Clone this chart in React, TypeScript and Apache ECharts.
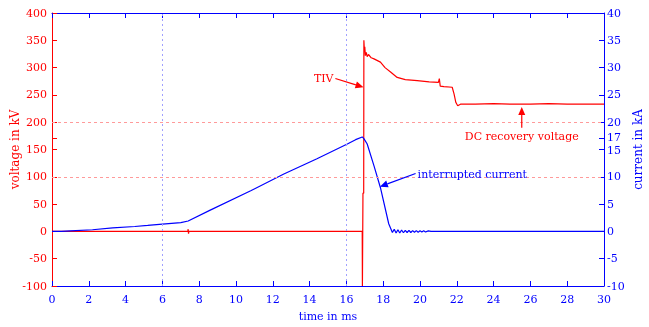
import React, { useEffect, useRef } from "react";
import * as echarts from "echarts";

const voltage: [number, number][] = [
  [0, 0], [7.38, 0], [7.4, 4], [7.42, -4], [7.44, 0], [16.86, 0], [16.87, -100], [16.9, -100],
  [16.9, 70], [16.94, 70], [16.95, 350], [16.98, 330], [17.0, 338], [17.03, 322], [17.08, 328],
  [17.13, 320], [17.2, 324], [17.35, 318], [17.5, 316], [17.85, 310], [18.1, 300], [18.4, 292],
  [18.76, 282], [19.2, 278], [19.85, 276], [20.5, 274], [21.0, 273], [21.05, 280], [21.1, 266],
  [21.3, 265], [21.75, 264], [21.85, 252], [21.95, 236], [22.05, 230], [22.2, 233], [23, 233],
  [24, 234], [25, 233], [26, 233], [27, 234], [28, 233], [30, 233],
];

const current: [number, number][] = [
  [0, 0], [0.5, 0], [1, 0.1], [2.2, 0.3], [3.3, 0.65], [4.5, 0.9], [5.2, 1.1], [6, 1.35], [7.0, 1.6],
  [7.4, 1.9], [8.6, 3.9], [10.8, 7.45], [12.6, 10.5], [14.4, 13.3], [16.05, 16.0], [16.5, 16.8],
  [16.86, 17.3], [16.95, 17.0], [17.13, 16.0], [17.5, 12.0], [17.85, 8.0], [18.3, 1.4], [18.5, -0.2],
  [18.6, 0.4], [18.7, -0.3], [18.8, 0.3], [18.9, -0.3], [19.0, 0.25], [19.1, -0.25], [19.2, 0.2],
  [19.3, -0.2], [19.4, 0.2], [19.5, -0.2], [19.6, 0.15], [19.7, -0.15], [19.8, 0.15], [19.9, -0.15],
  [20.0, 0.1], [20.1, -0.1], [20.2, 0.1], [20.3, -0.1], [20.45, 0.1], [20.6, 0], [30, 0],
];

const voltageTicks = [-100, -50, 0, 50, 100, 150, 170, 200, 250, 300, 350, 400];
const voltageLabels = [-100, -50, 0, 50, 100, 150, 200, 250, 300, 350, 400];
const currentTicks = [-10, -5, 0, 5, 10, 15, 17, 20, 25, 30, 35, 40];
const voltageGuides = [100, 200];
const timeGuides = [6, 16];

const RED = "#ff0000";
const BLUE = "#0000ff";
const FONT = "DejaVu Serif";

export default function App() {
  const ref = useRef<HTMLDivElement>(null);
  useEffect(() => {
    if (!ref.current) return;
    const chart = echarts.init(ref.current, undefined, { renderer: "svg" });
    const labelStyle = (c: string) => ({ color: c, fontFamily: FONT, fontSize: 11, lineHeight: 10 });
    chart.setOption({
      animation: false,
      grid: { left: 52, right: 45, top: 13, bottom: 41, containLabel: false, outerBoundsMode: "none" },
      xAxis: [
        {
          type: "value", min: 0, max: 30, interval: 2, position: "bottom",
          name: "time in ms", nameLocation: "middle", nameGap: 25, nameMoveOverlap: false,
          nameTextStyle: { color: BLUE, fontFamily: FONT, fontSize: 11 },
          axisLine: { onZero: false, lineStyle: { color: BLUE, width: 1 } },
          axisTick: { inside: true, length: 5, lineStyle: { color: BLUE } },
          axisLabel: { ...labelStyle(BLUE), margin: 8 },
          splitLine: { show: false },
        },
        {
          type: "value", min: 0, max: 30, interval: 2, position: "top",
          axisLine: { onZero: false, lineStyle: { color: BLUE, width: 1 } },
          axisTick: { inside: true, length: 5, lineStyle: { color: BLUE } },
          axisLabel: { show: false },
          splitLine: { show: false },
        },
      ],
      yAxis: [
        {
          type: "value", min: -100, max: 400, interval: 50, position: "left",
          name: "voltage in kV", nameLocation: "middle", nameGap: 31, nameRotate: 90, nameMoveOverlap: false,
          nameTextStyle: { color: RED, fontFamily: FONT, fontSize: 12 },
          axisLine: { show: true, onZero: false, lineStyle: { color: RED, width: 1 } },
          axisTick: { show: true, inside: true, length: 5, customValues: voltageTicks, lineStyle: { color: RED } },
          axisLabel: { ...labelStyle(RED), margin: 5, customValues: voltageLabels },
          splitLine: { show: false },
        },
        {
          type: "value", min: -10, max: 40, interval: 5, position: "right",
          name: "current in kA", nameLocation: "middle", nameGap: 28, nameRotate: 90, nameMoveOverlap: false,
          nameTextStyle: { color: BLUE, fontFamily: FONT, fontSize: 12 },
          axisLine: { show: true, onZero: false, lineStyle: { color: BLUE, width: 1 } },
          axisTick: { show: true, inside: true, length: 5, customValues: currentTicks, lineStyle: { color: BLUE } },
          axisLabel: {
            ...labelStyle(BLUE), margin: 3, customValues: currentTicks,
            formatter: (v: number) => (v === 17 ? "{up|17}" : v === 15 ? "{dn|15}" : String(v)),
            rich: {
              up: { color: BLUE, fontFamily: FONT, fontSize: 11, lineHeight: 10, padding: [0, 0, 2, 0] },
              dn: { color: BLUE, fontFamily: FONT, fontSize: 11, lineHeight: 10, padding: [1, 0, 0, 0] },
            },
          },
          splitLine: { show: false },
        },
      ],
      series: [
        {
          type: "line", name: "voltage", xAxisIndex: 0, yAxisIndex: 0, data: voltage,
          showSymbol: false, symbol: "none", lineStyle: { color: RED, width: 1.2 }, z: 3,
          markLine: {
            silent: true, symbol: "none", label: { show: false },
            lineStyle: { color: "#ff9a9a", type: [3, 3], width: 1 },
            data: voltageGuides.map((v) => ({ yAxis: v })),
          },
        },
        {
          type: "line", name: "current", xAxisIndex: 0, yAxisIndex: 1, data: current,
          showSymbol: false, symbol: "none", lineStyle: { color: BLUE, width: 1.2 }, z: 4,
          markLine: {
            silent: true, symbol: "none", label: { show: false },
            lineStyle: { color: "#a0a0ff", type: [2, 3], width: 1 },
            data: timeGuides.map((t) => ({ xAxis: t })),
          },
        },
      ],
    });

    const pv = (t: number, v: number) => chart.convertToPixel({ xAxisIndex: 0, yAxisIndex: 0 }, [t, v]) as number[];
    const pc = (t: number, v: number) => chart.convertToPixel({ xAxisIndex: 0, yAxisIndex: 1 }, [t, v]) as number[];
    const arrow = (a: number[], b: number[], color: string) => {
      const dx = b[0] - a[0], dy = b[1] - a[1];
      const len = Math.hypot(dx, dy);
      const ux = dx / len, uy = dy / len;
      const hl = 8, hw = 3.5;
      const base = [b[0] - ux * hl, b[1] - uy * hl];
      return [
        { type: "line", shape: { x1: a[0], y1: a[1], x2: base[0], y2: base[1] }, style: { stroke: color, lineWidth: 1.2 }, z: 10 },
        {
          type: "polygon", z: 10,
          shape: { points: [b, [base[0] - uy * hw, base[1] + ux * hw], [base[0] + uy * hw, base[1] - ux * hw]] },
          style: { fill: color },
        },
      ];
    };
    const tivText = pv(15.3, 280);
    const tivA = pv(15.4, 280), tivB = pv(16.93, 264);
    const dcText = pv(25.53, 174);
    const dcA = pv(25.53, 190), dcB = pv(25.53, 228);
    const icText = pc(19.87, 10.5);
    const icA = pc(19.76, 10.6), icB = pc(17.82, 8.2);
    const txt = (p: number[], s: string, color: string, align: string) => ({
      type: "text", x: p[0], y: p[1], z: 10,
      style: { text: s, fill: color, font: `11px '${FONT}'`, align, verticalAlign: "middle" },
    });
    chart.setOption({
      graphic: [
        txt(tivText, "TIV", RED, "right"),
        ...arrow(tivA, tivB, RED),
        txt(dcText, "DC recovery voltage", RED, "center"),
        ...arrow(dcA, dcB, RED),
        txt(icText, "interrupted current", BLUE, "left"),
        ...arrow(icA, icB, BLUE),
      ],
    });
    return () => chart.dispose();
  }, []);
  return <div ref={ref} style={{ position: "fixed", left: 0, top: 0, width: 649, height: 327 }} />;
}
